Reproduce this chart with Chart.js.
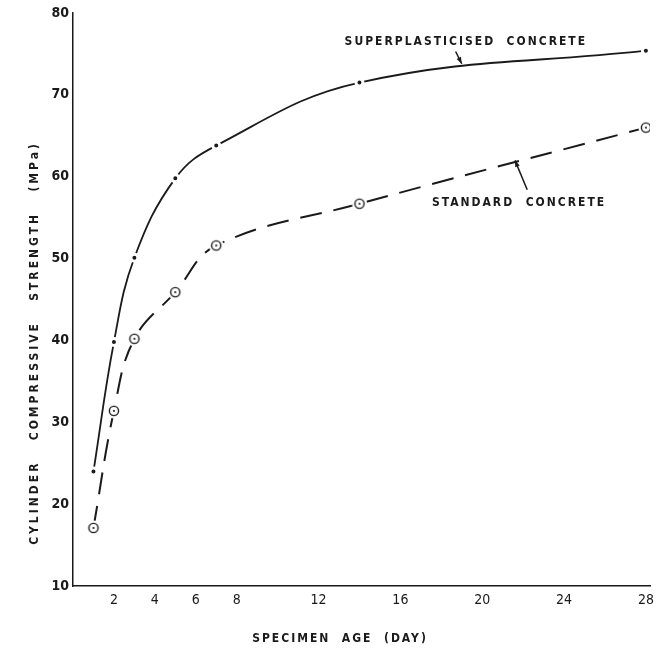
<!DOCTYPE html>
<html>
<head>
<meta charset="utf-8">
<script src="https://cdn.jsdelivr.net/npm/chart.js@4/dist/chart.umd.min.js"></script>
<style>
html, body { margin: 0; padding: 0; background: #fff; }
</style>
</head>
<body>
<canvas id="myChart" width="660" height="652"></canvas>
<script>
const ageDays = [1, 2, 3, 5, 7, 14, 28];
const superStrength = [24, 39.8, 50.1, 59.8, 63.8, 71.5, 75.4];
const standardStrength = [17.1, 31.4, 40.2, 45.9, 51.6, 56.7, 66];
const xTickValues = [2, 4, 6, 8, 12, 16, 20, 24, 28];
const yTickValues = [10, 20, 30, 40, 50, 60, 70, 80];

const narrow = '"DejaVu Sans Condensed", "Liberation Sans Narrow", "Liberation Sans", sans-serif';
const ink = '#1a1a1a';

// circled-dot marker for the standard concrete points (white halo breaks the dashes)
const ringMark = document.createElement('canvas');
ringMark.width = 16;
ringMark.height = 16;
(function () {
    const c = ringMark.getContext('2d');
    c.fillStyle = '#fff';
    c.beginPath(); c.arc(8, 8, 7.5, 0, Math.PI * 2); c.fill();
    c.strokeStyle = ink;
    c.lineWidth = 1.4;
    c.beginPath(); c.arc(8, 8, 4.6, 0, Math.PI * 2); c.stroke();
    c.fillStyle = ink;
    c.beginPath(); c.arc(8, 8, 1.1, 0, Math.PI * 2); c.fill();
})();

function arrow(ctx, x1, y1, x2, y2) {
    const a = Math.atan2(y2 - y1, x2 - x1);
    ctx.beginPath();
    ctx.moveTo(x1, y1);
    ctx.lineTo(x2, y2);
    ctx.stroke();
    ctx.beginPath();
    ctx.moveTo(x2, y2);
    ctx.lineTo(x2 - 7 * Math.cos(a - 0.35), y2 - 7 * Math.sin(a - 0.35));
    ctx.lineTo(x2 - 7 * Math.cos(a + 0.35), y2 - 7 * Math.sin(a + 0.35));
    ctx.closePath();
    ctx.fill();
}

const labelsPlugin = {
    id: 'labelsPlugin',
    afterDraw(chart) {
        const ctx = chart.ctx;
        const x = chart.scales.x, y = chart.scales.y;
        const area = chart.chartArea;
        ctx.save();
        ctx.fillStyle = ink;
        ctx.strokeStyle = ink;
        ctx.lineWidth = 1.5;
        ctx.textAlign = 'center';
        ctx.textBaseline = 'middle';
        ctx.font = 'bold 12px ' + narrow;
        ctx.letterSpacing = '2px';

        // curve labels
        ctx.fillText('SUPERPLASTICISED  CONCRETE', x.getPixelForValue(19.2), y.getPixelForValue(76.5));
        arrow(ctx, x.getPixelForValue(18.7), y.getPixelForValue(75.3),
                   x.getPixelForValue(19.0), y.getPixelForValue(73.8));
        ctx.fillText('STANDARD  CONCRETE', x.getPixelForValue(21.8), y.getPixelForValue(56.8));
        arrow(ctx, x.getPixelForValue(22.2), y.getPixelForValue(58.4),
                   x.getPixelForValue(21.6), y.getPixelForValue(62.0));

        // axis titles
        ctx.font = 'bold 12px ' + narrow;
        ctx.letterSpacing = '2px';
        ctx.fillText('SPECIMEN  AGE  (DAY)', area.left + 267, area.bottom + 53);

        ctx.font = 'bold 12px ' + narrow;
        ctx.letterSpacing = '3px';
        ctx.translate(area.left - 38, area.top + 330);
        ctx.rotate(-Math.PI / 2);
        ctx.fillText('CYLINDER   COMPRESSIVE   STRENGTH   (MPa)', 0, 0);
        ctx.restore();
    }
};

const ctx = document.getElementById('myChart').getContext('2d');
const myChart = new Chart(ctx, {
    type: 'line',
    data: {
        datasets: [
            {
                label: 'SUPERPLASTICISED CONCRETE',
                data: ageDays.map((d, i) => ({ x: d, y: superStrength[i] })),
                borderColor: ink,
                borderWidth: 1.8,
                tension: 0.4,
                pointRadius: 3.5,
                pointBackgroundColor: ink,
                pointBorderColor: '#fff',
                pointBorderWidth: 3,
                fill: false
            },
            {
                label: 'STANDARD CONCRETE',
                data: ageDays.map((d, i) => ({ x: d, y: standardStrength[i] })),
                borderColor: ink,
                borderWidth: 2,
                borderDash: [22, 12],
                tension: 0.4,
                pointStyle: ringMark,
                pointRadius: 8,
                fill: false
            }
        ]
    },
    options: {
        responsive: false,
        animation: false,
        layout: { padding: { top: 13, right: 5, left: 0, bottom: 0 } },
        plugins: {
            legend: { display: false },
            tooltip: { enabled: false }
        },
        scales: {
            x: {
                type: 'linear',
                min: 0,
                max: 28.2,
                grid: { display: false, drawTicks: false },
                border: { display: true, color: ink, width: 1.5 },
                afterBuildTicks: (scale) => { scale.ticks = xTickValues.map(v => ({ value: v })); },
                afterFit: (scale) => { scale.height = 66; },
                ticks: {
                    color: ink,
                    padding: 6,
                    maxRotation: 0,
                    autoSkip: false,
                    font: { family: narrow, size: 14 }
                }
            },
            y: {
                min: 10,
                max: 80,
                grid: { display: false, drawTicks: false },
                border: { display: true, color: ink, width: 1.5 },
                afterBuildTicks: (scale) => { scale.ticks = yTickValues.map(v => ({ value: v })); },
                afterFit: (scale) => { scale.width = 73; },
                ticks: {
                    color: ink,
                    padding: 4,
                    font: { family: narrow, size: 14, weight: 'bold' }
                }
            }
        }
    },
    plugins: [labelsPlugin]
});
</script>
</body>
</html>
